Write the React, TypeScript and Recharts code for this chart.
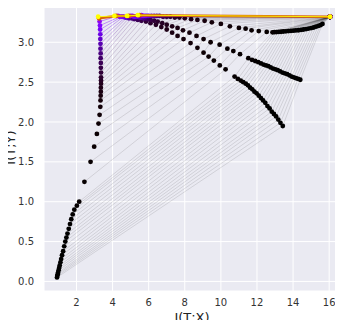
import React from 'react';
import { ScatterChart, Scatter, XAxis, YAxis, CartesianGrid } from 'recharts';

// Information plane: one trajectory per layer, one line per sampled epoch
const inputX = 16.05;
const inputY = 3.32;

const layerA_x = [15.63, 15.52, 15.4, 15.27, 15.14, 15.0, 14.86, 14.72, 14.58, 14.44, 14.3, 14.16, 14.02, 13.88, 13.74, 13.6, 13.46, 13.33, 13.2, 13.08, 12.96, 12.86,
    12.54, 12.1, 11.7, 11.37, 11.0, 10.5, 10.0, 9.5,
    9.1, 8.7, 8.35, 8.0, 7.7, 7.45, 7.2, 7.0, 6.8, 6.6, 6.45, 6.3, 6.15, 6.0, 5.9, 5.8, 5.7, 5.6, 5.5, 5.4];
const layerA_y = [3.23, 3.215, 3.205, 3.195, 3.185, 3.178, 3.172, 3.166, 3.16, 3.155, 3.151, 3.148, 3.145, 3.142, 3.14, 3.137, 3.135, 3.132, 3.13, 3.128, 3.126, 3.125,
    3.13, 3.14, 3.15, 3.17, 3.18, 3.2, 3.23, 3.25,
    3.27, 3.28, 3.29, 3.3, 3.31, 3.31, 3.32, 3.32, 3.32, 3.33, 3.33, 3.33, 3.33, 3.33, 3.33, 3.33, 3.33, 3.34, 3.34, 3.34];

const layerB_x = [14.4, 14.28, 14.16, 14.04, 13.92, 13.8, 13.67, 13.54, 13.41, 13.28, 13.15, 13.02, 12.89, 12.76, 12.63, 12.5, 12.36, 12.22, 12.07, 11.9, 11.72, 11.52,
    11.06, 10.69, 10.36, 9.93, 9.43, 9.04, 8.65, 8.26,
    7.9, 7.6, 7.3, 7.0, 6.75, 6.5, 6.3, 6.1, 5.95, 5.8, 5.7, 5.6, 5.5, 5.4, 5.3, 5.2, 5.1, 5.0, 4.9, 4.8];
const layerB_y = [2.53, 2.54, 2.55, 2.56, 2.57, 2.585, 2.6, 2.61, 2.62, 2.635, 2.65, 2.66, 2.67, 2.685, 2.7, 2.71, 2.72, 2.735, 2.75, 2.765, 2.78, 2.8,
    2.85, 2.89, 2.92, 2.97, 3.0, 3.04, 3.08, 3.12,
    3.15, 3.18, 3.2, 3.22, 3.24, 3.26, 3.27, 3.28, 3.29, 3.3, 3.3, 3.31, 3.31, 3.32, 3.32, 3.32, 3.33, 3.33, 3.33, 3.33];

const layerC_x = [13.43, 13.3, 13.18, 13.06, 12.94, 12.82, 12.7, 12.58, 12.46, 12.34, 12.22, 12.1, 11.98, 11.86, 11.74, 11.62, 11.5, 11.38, 11.24, 11.1, 10.94, 10.76,
    10.26, 9.94, 9.61, 9.32, 9.04, 8.7, 8.32, 7.93,
    7.6, 7.3, 7.0, 6.7, 6.4, 6.1, 5.85, 5.6, 5.4, 5.2, 5.05, 4.9, 4.8, 4.7, 4.6, 4.5, 4.4, 4.3, 4.2, 4.1];
const layerC_y = [1.95, 1.99, 2.03, 2.07, 2.1, 2.13, 2.17, 2.2, 2.24, 2.27, 2.3, 2.33, 2.36, 2.38, 2.41, 2.43, 2.46, 2.48, 2.5, 2.52, 2.54, 2.57,
    2.66, 2.71, 2.77, 2.82, 2.87, 2.93, 2.99, 3.04,
    3.08, 3.12, 3.16, 3.19, 3.22, 3.24, 3.26, 3.27, 3.28, 3.29, 3.3, 3.3, 3.31, 3.31, 3.32, 3.32, 3.32, 3.33, 3.33, 3.33];

const layerD_x = [0.92, 0.94, 0.96, 0.98, 1.01, 1.04, 1.07, 1.11, 1.15, 1.2, 1.26, 1.32, 1.38, 1.44, 1.5, 1.57, 1.64, 1.71, 1.79, 1.88, 2.02, 2.15,
    2.44, 2.78, 2.98, 3.13, 3.22, 3.28, 3.32, 3.33,
    3.34, 3.35, 3.35, 3.36, 3.36, 3.36, 3.36, 3.35, 3.35, 3.34, 3.34, 3.33, 3.33, 3.32, 3.32, 3.31, 3.3, 3.28, 3.25, 3.2];
const layerD_y = [0.05, 0.07, 0.09, 0.11, 0.14, 0.17, 0.2, 0.24, 0.28, 0.33, 0.38, 0.44, 0.5, 0.55, 0.6, 0.66, 0.72, 0.78, 0.84, 0.9, 0.95, 1.0,
    1.25, 1.5, 1.69, 1.85, 1.98, 2.09, 2.19, 2.27,
    2.33, 2.38, 2.43, 2.48, 2.52, 2.56, 2.62, 2.68, 2.74, 2.8, 2.86, 2.92, 2.98, 3.04, 3.1, 3.16, 3.21, 3.26, 3.3, 3.32];

const xTicks = [2, 4, 6, 8, 10, 12, 14, 16];
const yTicks = [0, 0.5, 1.0, 1.5, 2.0, 2.5, 3.0];

// matplotlib 'gnuplot' colormap
const gnuplot = (c: number) => {
    const r = Math.sqrt(c);
    const g = c * c * c;
    const b = Math.max(0, Math.sin(2 * Math.PI * c));
    const h = (v: number) => Math.round(Math.min(1, v) * 255).toString(16).padStart(2, '0');
    return `#${h(r)}${h(g)}${h(b)}`;
};

const nEpochs = layerA_x.length;
const epochs = layerA_x.map((_, i) => {
    let c = 0.3 * Math.pow(i / (nEpochs - 3), 8);
    let opacity = 0.11 + c * 1.2;
    let width = 1;
    if (i === nEpochs - 2) { c = 0.72; opacity = 0.95; width = 2.5; }
    if (i === nEpochs - 1) { c = 1; opacity = 0.9; width = 1; }
    return {
        color: gnuplot(c),
        opacity,
        width,
        points: [
            { x: inputX, y: inputY },
            { x: layerA_x[i], y: layerA_y[i] },
            { x: layerB_x[i], y: layerB_y[i] },
            { x: layerC_x[i], y: layerC_y[i] },
            { x: layerD_x[i], y: layerD_y[i] },
        ],
    };
});

const tickStyle = { fill: '#333', fontSize: 10 };

export default function App() {
    return (
        <div style={{ margin: -8, fontFamily: 'DejaVu Sans', width: 343, height: 328 }}>
            <ScatterChart width={343} height={328} margin={{ top: 4, right: 3, bottom: 0, left: 0 }}>
                <CartesianGrid fill="#EAEAF2" stroke="#ffffff" strokeWidth={1} />
                <XAxis
                    type="number"
                    dataKey="x"
                    domain={[0.2, 16.6]}
                    ticks={xTicks}
                    allowDataOverflow
                    height={37}
                    tickLine={false}
                    axisLine={false}
                    tickSize={0}
                    tickMargin={8}
                    tick={tickStyle}
                    label={{ value: 'I(T;X)', position: 'insideBottom', offset: 6, fill: '#222', fontSize: 13 }}
                />
                <YAxis
                    type="number"
                    dataKey="y"
                    domain={[-0.12, 3.48]}
                    ticks={yTicks}
                    allowDataOverflow
                    width={44}
                    tickLine={false}
                    axisLine={false}
                    tickSize={0}
                    tickMargin={10}
                    tick={tickStyle}
                    tickFormatter={(v: number) => v.toFixed(1)}
                    label={{ value: 'I(T;Y)', angle: -90, position: 'insideLeft', offset: 10, fill: '#222', fontSize: 13, style: { textAnchor: 'middle' } }}
                />
                {epochs.map((ep, i) => (
                    <Scatter
                        key={`ep-${i}`}
                        data={ep.points}
                        fill={ep.color}
                        line={{ stroke: ep.color, strokeOpacity: ep.opacity, strokeWidth: ep.width }}
                        lineType="joint"
                        isAnimationActive={false}
                        shape={(p: any) => <circle cx={p.cx} cy={p.cy} r={2.4} fill={ep.color} />}
                    />
                ))}
            </ScatterChart>
        </div>
    );
}
